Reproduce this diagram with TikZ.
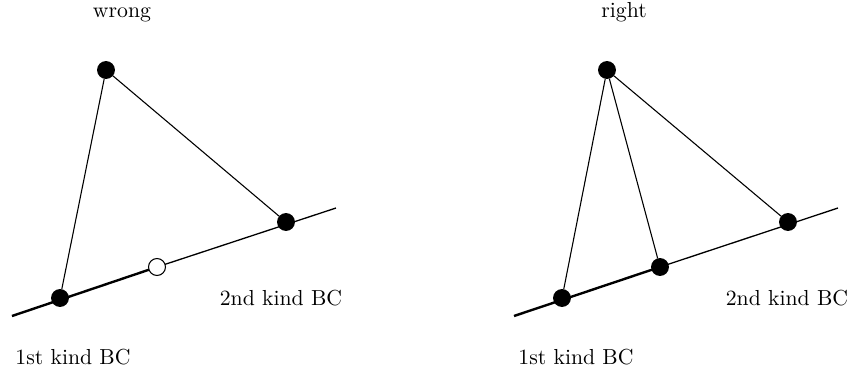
\documentclass[tikz,border=0pt]{standalone}
\usepackage{tikz}
\usetikzlibrary{positioning}

\begin{document}
\begin{tikzpicture}[x=0.46pt, y=-0.46pt,
	dot/.style={circle, fill=black, draw=black, inner sep=0pt, minimum size=7.8pt},
	hole/.style={circle, fill=white, draw=black, line width=0.5pt, inner sep=0pt, minimum size=7.8pt},
	edge/.style={draw=black, line width=0.5pt},
	bnd/.style={draw=black, line width=0.6pt},
	bndthick/.style={draw=black, line width=1.1pt},
	lbl/.style={font=\normalsize, inner sep=0pt}
	]
\useasboundingbox (0,0) rectangle (854,382);

% left: wrong
\node[lbl, anchor=base] (tw) at (122,17) {wrong};
\coordinate (wa) at (12,316);
\coordinate (wb) at (336,208);
\coordinate (wm) at (157,267);
\draw[bndthick] (wa) -- (wm);
\draw[bnd] (wm) -- (wb);
\node[dot] (wtop) at (106,70) {};
\node[dot] (wright) at (286,222) {};
\node[dot] (wleft) at (60,298) {};
\node[hole] (wmid) at (wm) {};
\draw[edge] (wtop) -- (wright);
\draw[edge] (wtop) -- (wleft);
\node[lbl] (w2) at (281,298) {2nd kind BC};
\node[lbl] (w1) at (73,357) {1st kind BC};

% right: right
\node[lbl, anchor=base] (tr) at (624,17) {right};
\coordinate (ra) at (514,316);
\coordinate (rb) at (838,208);
\coordinate (rm) at (660,267);
\draw[bndthick] (ra) -- (rm);
\draw[bnd] (rm) -- (rb);
\node[dot] (rtop) at (607,70) {};
\node[dot] (rright) at (788,222) {};
\node[dot] (rleft) at (562,298) {};
\node[dot] (rmid) at (rm) {};
\draw[edge] (rtop) -- (rright);
\draw[edge] (rtop) -- (rleft);
\draw[edge] (rtop) -- (rmid);
\node[lbl] (r2) at (787,298) {2nd kind BC};
\node[lbl] (r1) at (576,357) {1st kind BC};
\end{tikzpicture}
\end{document}
